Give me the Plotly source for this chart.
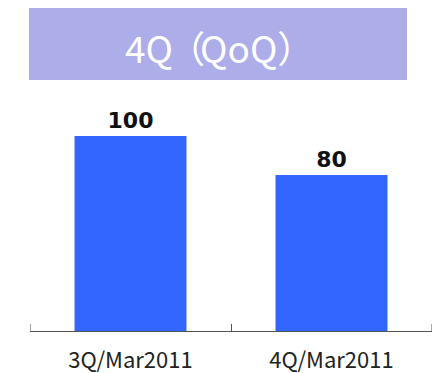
import plotly.graph_objects as go

categories = ["3Q/Mar2011", "4Q/Mar2011"]
values = [100, 80]
title_parts = ["4", "Q（", "QoQ）"]

W, H = 433, 373
L, R, T, B = 30, 1, 100, 42
pw, ph = W - L - R, H - T - B

def px_x(x):
    return (x - L) / pw

def px_y(y):
    return (H - B - y) / ph

fig = go.Figure()
fig.add_trace(go.Bar(
    x=categories, y=values,
    marker=dict(color="#3366FF", line=dict(width=0)),
    width=0.557,
    text=[str(v) for v in values],
    textposition="outside",
    textfont=dict(family="DejaVu Sans", size=22, color="#111111", weight="bold"),
    cliponaxis=False,
))

# end ticks of the category axis (boundaries)
n = len(categories)
for b in (-0.5, n - 0.5):
    fig.add_shape(type="line", xref="x", yref="paper", x0=b, x1=b,
                  y0=0, y1=7 / ph, line=dict(color="#555555", width=1))

fig.add_shape(type="rect", xref="paper", yref="paper",
              x0=px_x(29), x1=px_x(407), y0=px_y(80), y1=px_y(8),
              fillcolor="#ADADEA", line=dict(width=0), layer="below")
title_html = (title_parts[0]
              + "<span style='letter-spacing:-5px'>" + title_parts[1] + "</span>"
              + title_parts[2])
fig.add_annotation(xref="paper", yref="paper", x=px_x(219), y=px_y(47),
                   text=title_html, showarrow=False,
                   font=dict(family="Noto Sans CJK JP", size=37, color="white"),
                   xanchor="center", yanchor="middle")

fig.update_layout(
    width=W, height=H,
    margin=dict(l=L, r=R, t=T, b=B, pad=0),
    paper_bgcolor="white", plot_bgcolor="white",
    showlegend=False,
    xaxis=dict(
        type="category", range=[-0.5, n - 0.5],
        showline=True, linecolor="#555555", linewidth=1,
        ticks="inside", tickson="boundaries", ticklen=7, tickcolor="#555555",
        showgrid=False, automargin=False,
        tickfont=dict(family="Noto Sans CJK JP", size=22, color="#222222"),
        ticklabelstandoff=10,
    ),
    yaxis=dict(range=[0, ph / 1.95], visible=False, showgrid=False, automargin=False),
)

fig.write_html("out.html")
